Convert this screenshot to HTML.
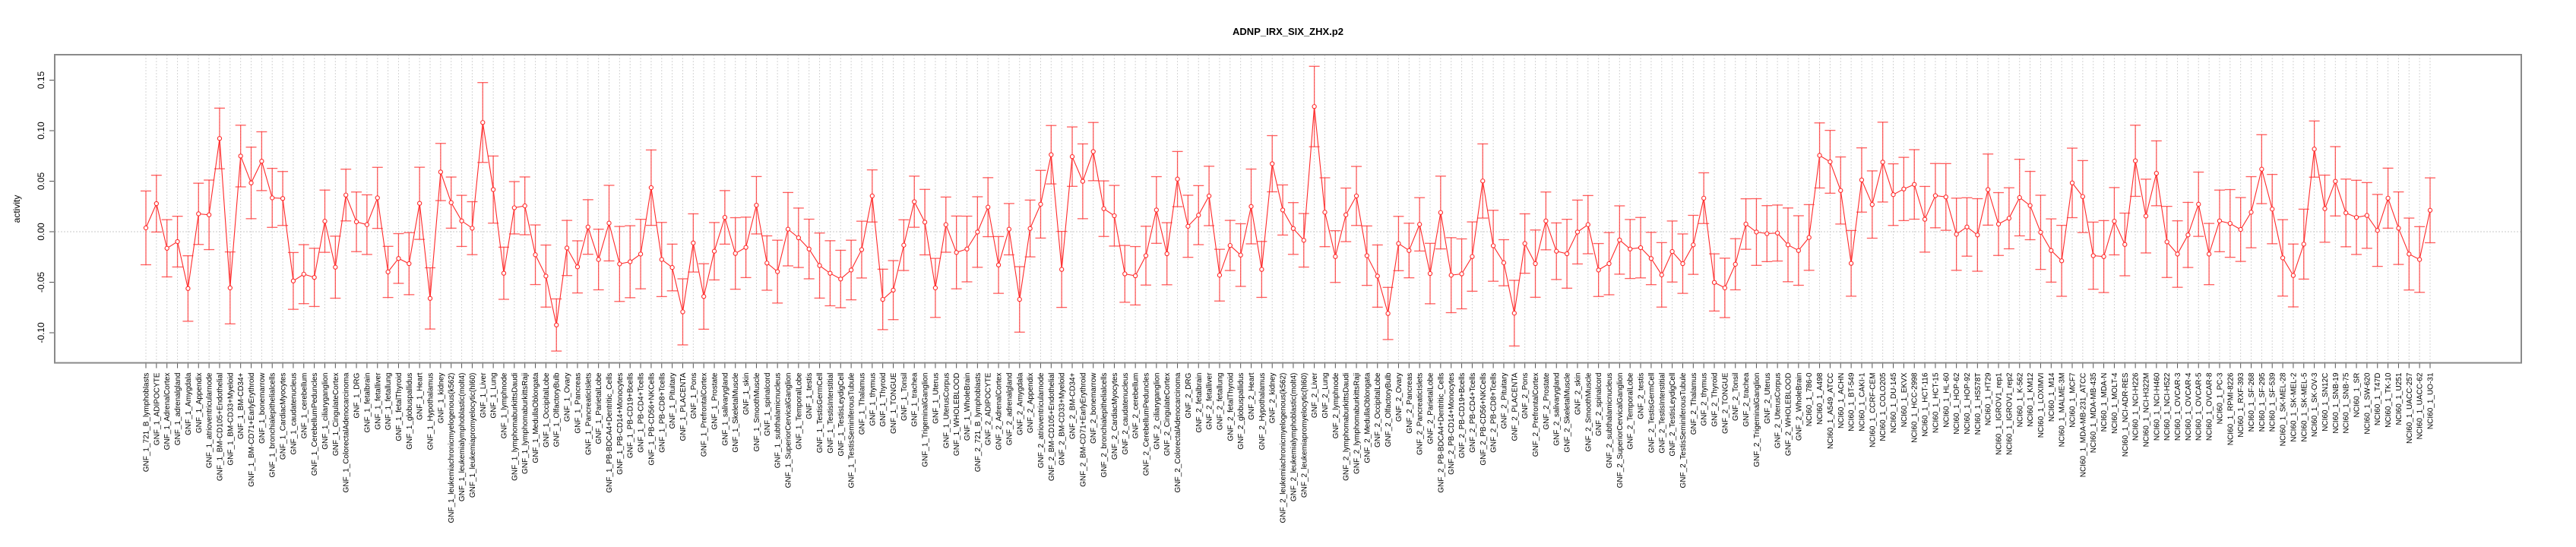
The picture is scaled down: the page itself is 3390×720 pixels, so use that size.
<!DOCTYPE html>
<html><head><meta charset="utf-8"><title>ADNP_IRX_SIX_ZHX.p2</title>
<style>html,body{margin:0;padding:0;background:#fff;}svg{display:block;font-family:"Liberation Sans",Arial,sans-serif;}</style>
</head><body>
<svg id="chart" width="3390" height="720" viewBox="0 0 3390 720" xmlns="http://www.w3.org/2000/svg">
<text x="1695" y="46" text-anchor="middle" font-size="13" font-weight="bold">ADNP_IRX_SIX_ZHX.p2</text>
<text transform="translate(26,275) rotate(-90)" text-anchor="middle" font-size="12">activity</text>
<g id="grid"></g>
<g id="yaxis"></g>
<g id="xaxis"></g>
<g id="marks"></g>
<rect x="72" y="72" width="3246" height="405.6" fill="none" stroke="#8a8a8a" stroke-width="2"/>
</svg>
<script>
const tissues = ["721_B_lymphoblasts","ADIPOCYTE","AdrenalCortex","adrenalgland","Amygdala","Appendix","atrioventricularnode","BM-CD105+Endothelial","BM-CD33+Myeloid","BM-CD34+","BM-CD71+EarlyErythroid","bonemarrow","bronchialepithelialcells","CardiacMyocytes","caudatenucleus","cerebellum","CerebellumPeduncles","ciliaryganglion","CingulateCortex","ColorectalAdenocarcinoma","DRG","fetalbrain","fetalliver","fetallung","fetalThyroid","globuspallidus","Heart","Hypothalamus","kidney","leukemiachronicmyelogenous(k562)","leukemialymphoblastic(molt4)","leukemiapromyelocytic(hl60)","Liver","Lung","lymphnode","lymphomaburkittsDaudi","lymphomaburkittsRaji","MedullaOblongata","OccipitalLobe","OlfactoryBulb","Ovary","Pancreas","PancreaticIslets","ParietalLobe","PB-BDCA4+Dentritic_Cells","PB-CD14+Monocytes","PB-CD19+Bcells","PB-CD4+Tcells","PB-CD56+NKCells","PB-CD8+Tcells","Pituitary","PLACENTA","Pons","PrefrontalCortex","Prostate","salivarygland","SkeletalMuscle","skin","SmoothMuscle","spinalcord","subthalamicnucleus","SuperiorCervicalGanglion","TemporalLobe","testis","TestisGermCell","TestisInterstitial","TestisLeydigCell","TestisSeminiferousTubule","Thalamus","thymus","Thyroid","TONGUE","Tonsil","trachea","TrigeminalGanglion","Uterus","UterusCorpus","WHOLEBLOOD","WholeBrain"];
const cellLines = ["786-0","A498","A549_ATCC","ACHN","BT-549","CAKI-1","CCRF-CEM","COLO205","DU-145","EKVX","HCC-2998","HCT-116","HCT-15","HL-60","HOP-62","HOP-92","HS578T","HT29","IGROV1_rep1","IGROV1_rep2","K-562","KM12","LOXIMVI","M14","MALME-3M","MCF7","MDA-MB-231_ATCC","MDA-MB-435","MDA-N","MOLT-4","NCI-ADR-RES","NCI-H226","NCI-H322M","NCI-H460","NCI-H522","OVCAR-3","OVCAR-4","OVCAR-5","OVCAR-8","PC-3","RPMI-8226","RXF-393","SF-268","SF-295","SF-539","SK-MEL-28","SK-MEL-2","SK-MEL-5","SK-OV-3","SN12C","SNB-19","SNB-75","SR","SW-620","T47D","TK-10","U251","UACC-257","UACC-62","UO-31"];
const categories = tissues.map(t=>"GNF_1_"+t).concat(tissues.map(t=>"GNF_2_"+t), cellLines.map(c=>"NCI60_1_"+c));
// activity values in thousandths
const activityMilli = [3.8,27.8,-16.4,-9.8,-56.2,17.7,16.7,92.3,-55.6,74.9,48.3,69.8,33.5,32.9,-48.7,-42,-45.2,10.4,-35.1,36.3,9.8,7,33.5,
-39.8,-26.5,-31.6,28.1,-66,59.1,28.8,10.7,3.5,108.1,41.7,-41.1,23.7,25.6,-22.8,-43.9,-92.3,-16.1,-34.8,4.7,-27.5,8.5,
-31.9,-29.7,-22.1,43.6,-27.5,-35.4,-79.3,-11.1,-64.1,-19.3,14.2,-21.5,-15.5,26.2,-31,-39.5,2.5,-6,-17.1,-33.5,-41.1,
-46.8,-37.9,-17.7,35.4,-67,-57.8,-13.3,29.7,9.5,-55.6,7,-20.5,-17.1,-0.3,24.3,-32.9,2.5,-67,3.2,27.2,76.2,-37.3,
74.3,49.9,79.3,22.8,15.8,-41.7,-43.6,-23.7,21.5,-21.8,52.1,5.4,16.4,35.4,-43,-13.6,-23.1,25,-37.3,67.3,21.5,3.2,
-8.5,123.9,19.3,-24.6,16.7,35.4,-23.7,-43.9,-80.9,-11.7,-18.6,7.3,-41.4,19,-43,-41.7,-24.6,50.2,-13.9,-30.7,-80.6,
-11.7,-31.6,10.7,-19.3,-21.8,-0.3,7,-37.9,-31.6,-8.2,-17.1,-15.8,-26.5,-42.7,-19.6,-31.6,-13,33.2,-50.2,-55.6,-32.2,7.6,
-0.3,-1.9,-1.3,-13,-18.6,-5.7,75.5,69.2,40.8,-31.3,51.2,26.9,68.9,36.7,42.3,46.8,12.3,35.7,34.4,-2.5,4.7,-3.2,
41.7,7.6,13.3,33.8,25.9,-0.6,-18.6,-28.8,48.3,34.8,-23.7,-24.6,10.4,-12.6,70.2,15.5,57.8,-10.1,-22.1,-3.2,27.2,
-22.1,10.7,8.2,2.2,19.3,61.9,22.4,-25.9,-43.3,-12.3,81.8,22.8,49.9,18.6,14.2,16.1,1.3,33.2,3.5,-22.1,-27.5,21.2];
// error half-widths in thousandths
const errorMilli = [36.5,28.1,28.3,25.1,32.4,30.3,34.4,30,35.6,30.5,35.4,29.1,29.2,26.7,28.1,29.2,28.8,30.8,30.7,25.6,29.5,29.5,30.2,
25.3,24.6,30.7,35.7,30.3,28.3,25.3,25.3,26.2,39.5,33.2,25.8,25.9,28.6,29.5,30.7,25.8,27.3,25.8,27,30,37.4,
37.1,35.6,34.4,37.3,36.7,23.1,32.7,28.8,32.4,28.4,26.5,35.4,29.9,28.4,26.9,31.1,36.3,29.4,29.5,32.2,32.2,
28.4,29.5,28.1,25.8,29.9,29.2,25.1,25.3,32.4,29.2,27.3,36,32.5,34.9,29.2,28.1,25.4,32.4,28.1,33.5,28.9,37.6,
29.4,37,28.8,27.5,30,28.1,28.9,29.1,33,30.7,27.3,30.7,29.2,29.4,25.6,24.8,31,37,27.7,27.8,24.8,25.6,
26.5,39.8,34.1,25.6,26.5,29.2,29.4,30.8,25.8,26.9,27,26.4,29.9,36,37.1,34.6,34.3,36.7,35.1,22.8,32.5,
29.4,33.3,28.6,28,34.1,31.6,28.8,26.2,30.8,33.8,29.2,29.9,25.9,31.9,30.2,29.4,29.2,25.1,28.3,29.4,25.3,25,
33,27.7,27.7,36.5,34.4,32.5,32.2,31.1,33.2,32.5,31.8,33.3,39.5,30.5,31.3,34.4,32.5,31.8,33,35.7,28.9,35.9,
35.2,31.1,30.2,37.9,33.8,36.7,31.3,35.1,34.4,35.6,33.2,35.6,33.3,31,35.2,36.5,32.1,35.2,32.9,32.2,31.8,
30.3,30.5,33.5,31.6,35.2,34.1,34.3,37.8,31.1,34.6,27.8,33.2,34.3,33.5,36.7,32.5,35.6,29.7,35.9,35.6,32.5,32.1];
const yTicks = [-0.10,-0.05,0.00,0.05,0.10,0.15];
const yTickLabels = ["-0.10","-0.05","0.00","0.05","0.10","0.15"];

const NS="http://www.w3.org/2000/svg";
const plotL=72, plotR=3318, plotT=72, plotB=477.6;
const step=(3198-192)/(categories.length-1);
function xScale(i){ return 192 + i*step; }
function yScale(v){ return 305 - v*1330; }
function mk(tag, attrs, parent){ const e=document.createElementNS(NS,tag); for(const k in attrs) e.setAttribute(k,attrs[k]); parent.appendChild(e); return e; }
const grid=document.getElementById('grid'), yaxis=document.getElementById('yaxis'), xaxis=document.getElementById('xaxis'), marks=document.getElementById('marks');

// zero line
let zl=mk('line',{x1:plotL,x2:plotR,y1:yScale(0),y2:yScale(0),stroke:'#c8c8c8','stroke-dasharray':'2,2'},grid);



// y axis
yTicks.forEach((t,i)=>{
  const y=yScale(t);
  const tk=mk('line',{x1:plotL-7,x2:plotL,y1:y,y2:y,stroke:'#555','stroke-width':1},yaxis);
  
  
  const tx=mk('text',{transform:`translate(${plotL-14},${y}) rotate(-90)`,'text-anchor':'middle','font-size':12},yaxis);
  tx.textContent=yTickLabels[i];
  
  
});

// x grid, ticks, labels
categories.forEach((c,i)=>{
  const x=xScale(i);
  const g=mk('line',{x1:x,x2:x,y1:plotT,y2:plotB,stroke:'#d4d4d4','stroke-dasharray':'2,2'},grid);
  
  
  const tk=mk('line',{x1:x,x2:x,y1:plotB,y2:plotB+7,stroke:'#555'},xaxis);
  
  
  const tx=mk('text',{transform:`translate(${x+3.5},${plotB+13}) rotate(-90)`,'text-anchor':'end','font-size':10},xaxis);
  tx.textContent=c;
  
  
});

// error bars
categories.forEach((c,i)=>{
  const x=xScale(i), v=activityMilli[i]/1000, e=errorMilli[i]/1000;
  const yt=yScale(v+e), yb=yScale(v-e);
  const g=mk('g',{stroke:'rgba(255,40,40,0.75)','stroke-width':1.3},marks);
  
  
  mk('line',{x1:x,x2:x,y1:yt,y2:yb},g);
  mk('line',{x1:x-7,x2:x+7,y1:yt,y2:yt},g);
  mk('line',{x1:x-7,x2:x+7,y1:yb,y2:yb},g);
});

// connecting line
const pts=categories.map((c,i)=>xScale(i).toFixed(1)+','+yScale(activityMilli[i]/1000).toFixed(1)).join(' ');
const pl=mk('polyline',{points:pts,fill:'none',stroke:'#ff2a2a','stroke-width':1.1},marks);



// points
categories.forEach((c,i)=>{
  const p=mk('circle',{cx:xScale(i),cy:yScale(activityMilli[i]/1000),r:2.6,fill:'#fff',stroke:'#ff2a2a','stroke-width':1.1},marks);
  
  
});
</script>
</body></html>
